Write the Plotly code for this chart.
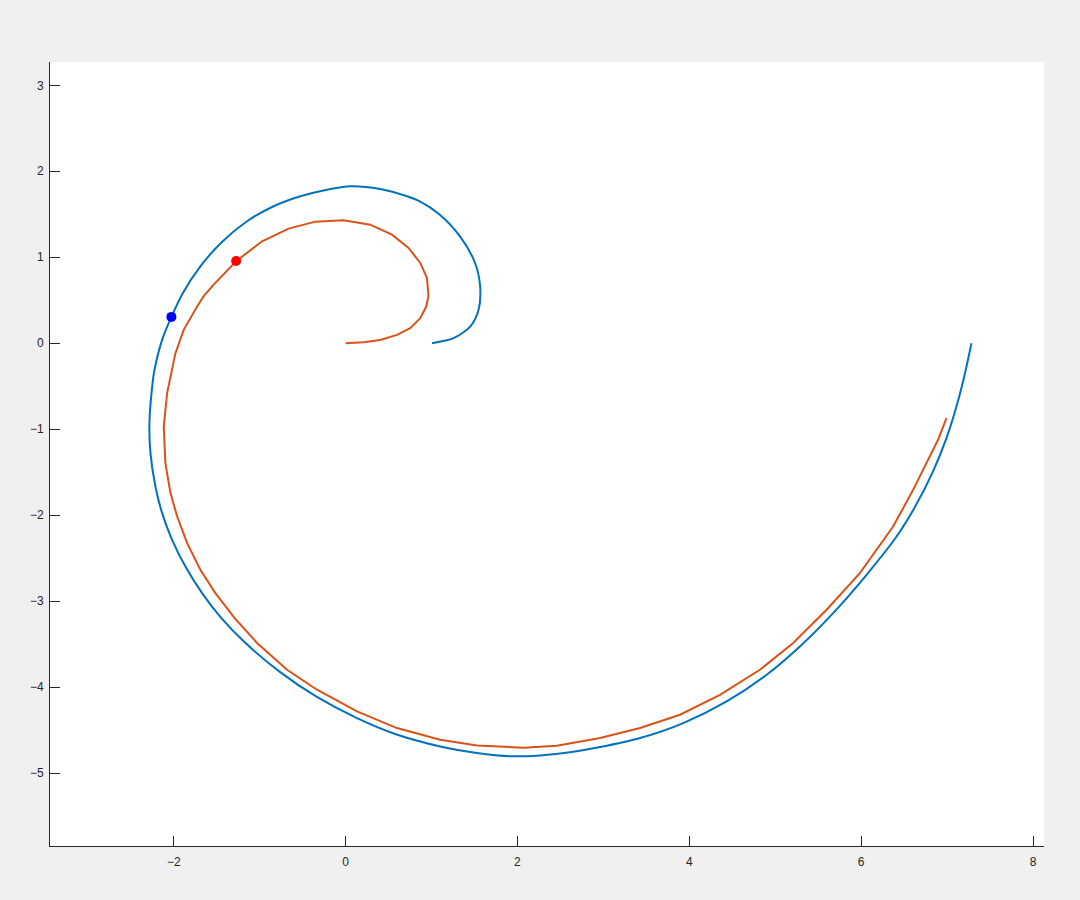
import plotly.graph_objects as go

# Blue curve (smooth spiral)
blue_x = [1.005, 1.256, 1.450, 1.547, 1.566, 1.508, 1.334, 1.090, 0.869, 0.714, 0.403, 0.055,
          -0.216, -0.527, -0.837, -1.147, -1.445, -1.690, -1.893, -2.027, -2.135, -2.224,
          -2.251, -2.283, -2.271, -2.213, -2.135, -2.019, -1.864, -1.670, -1.445, -1.174,
          -0.765, -0.343, 0.127, 0.585, 1.101, 1.528, 1.915, 2.264, 2.651, 2.962, 3.427,
          3.930, 4.435, 4.900, 5.287, 5.674, 6.063, 6.412, 6.621, 6.833, 6.994, 7.109,
          7.197, 7.284]
blue_y = [0.000, 0.058, 0.193, 0.387, 0.658, 0.930, 1.240, 1.501, 1.647, 1.709, 1.794, 1.826,
          1.786, 1.709, 1.593, 1.419, 1.172, 0.893, 0.585, 0.306, 0.038, -0.311,
          -0.505, -0.930, -1.279, -1.667, -1.977, -2.287, -2.598, -2.907, -3.199, -3.480,
          -3.824, -4.109, -4.359, -4.549, -4.691, -4.767, -4.805, -4.795, -4.752, -4.698,
          -4.593, -4.419, -4.167, -3.857, -3.528, -3.140, -2.694, -2.249, -1.914, -1.500,
          -1.101, -0.737, -0.398, 0.000]

# Red curve (piecewise-linear approximation)
red_x = [0.000, 0.209, 0.403, 0.598, 0.752, 0.869, 0.938, 0.965, 0.947, 0.869, 0.733, 0.540,
         0.287, -0.023, -0.352, -0.663, -0.972, -1.274, -1.535, -1.651, -1.728, -1.884,
         -1.980, -2.077, -2.116, -2.097, -2.038, -1.960, -1.844, -1.690, -1.515, -1.291,
         -1.030, -0.681, -0.333, 0.133, 0.598, 1.101, 1.528, 1.915, 2.070, 2.458, 2.962,
         3.427, 3.892, 4.357, 4.822, 5.209, 5.598, 5.985, 6.372, 6.605, 6.760, 6.895, 6.993]
red_y = [0.000, 0.012, 0.038, 0.097, 0.174, 0.291, 0.426, 0.547, 0.759, 0.934, 1.108, 1.263,
         1.379, 1.430, 1.414, 1.333, 1.186, 0.953, 0.681, 0.547, 0.426, 0.155,
         -0.116, -0.581, -0.970, -1.395, -1.744, -2.016, -2.326, -2.636, -2.907, -3.198,
         -3.488, -3.799, -4.031, -4.284, -4.477, -4.613, -4.679, -4.698, -4.706, -4.683,
         -4.593, -4.477, -4.322, -4.090, -3.799, -3.488, -3.101, -2.674, -2.133, -1.706,
         -1.395, -1.124, -0.872]

blue_dot = (-2.027, 0.306)
red_dot = (-1.274, 0.957)

x_ticks = [-2, 0, 2, 4, 6, 8]
y_ticks = [-5, -4, -3, -2, -1, 0, 1, 2, 3]

fig = go.Figure()
fig.add_trace(go.Scatter(x=blue_x, y=blue_y, mode="lines",
                         line=dict(color="#0072BD", width=2, shape="spline", smoothing=0.8),
                         showlegend=False, hoverinfo="skip"))
fig.add_trace(go.Scatter(x=red_x, y=red_y, mode="lines",
                         line=dict(color="#D95319", width=2),
                         showlegend=False, hoverinfo="skip"))
fig.add_trace(go.Scatter(x=[blue_dot[0]], y=[blue_dot[1]], mode="markers",
                         marker=dict(color="#0000FF", size=10), showlegend=False,
                         hoverinfo="skip"))
fig.add_trace(go.Scatter(x=[red_dot[0]], y=[red_dot[1]], mode="markers",
                         marker=dict(color="#FF0000", size=10), showlegend=False,
                         hoverinfo="skip"))

axis_common = dict(showgrid=False, zeroline=False, showline=True, linecolor="#262626",
                   linewidth=1, ticks="inside", ticklen=10, tickcolor="#262626", tickwidth=1,
                   tickfont=dict(family="Liberation Sans, Arial, sans-serif", size=12,
                                 color="#262626"),
                   mirror=False)

fig.update_layout(
    width=1080, height=900,
    paper_bgcolor="#F0F0F0", plot_bgcolor="#FFFFFF",
    margin=dict(l=50, r=36, t=62, b=54),
    xaxis=dict(range=[-3.44, 8.128], tickvals=x_ticks, ticklabelstandoff=5, **axis_common),
    yaxis=dict(range=[-5.849, 3.271], tickvals=y_ticks, ticklabelstandoff=3, **axis_common),
)

fig.write_html(
    "out.html",
    config={"displayModeBar": False},
    post_script="document.body.style.margin='0';document.body.style.overflow='hidden';",
)
